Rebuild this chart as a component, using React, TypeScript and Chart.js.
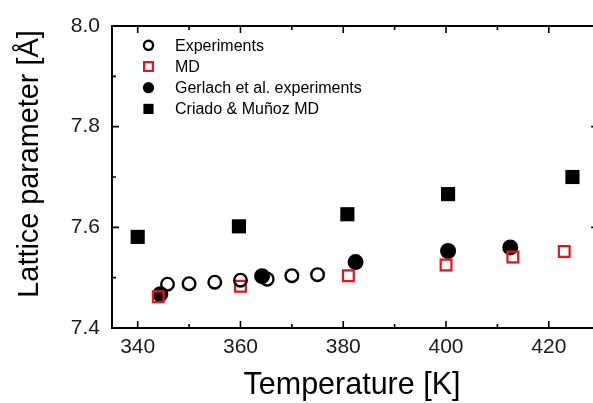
import React, { useEffect, useRef } from 'react';
import { Chart, registerables } from 'chart.js';
Chart.register(...registerables);

// Data
const expT = [345.8, 350, 355, 360, 365.2, 370, 375];
const expA = [7.487, 7.488, 7.491, 7.495, 7.497, 7.504, 7.506];
const mdT = [344, 360, 381, 400, 413, 423];
const mdA = [7.462, 7.483, 7.504, 7.525, 7.541, 7.552];
const gerT = [344.4, 364.2, 382.4, 400.4, 412.5];
const gerA = [7.467, 7.503, 7.531, 7.553, 7.56];
const crT = [340, 359.7, 380.8, 400.4, 424.6];
const crA = [7.581, 7.602, 7.626, 7.666, 7.7];
const seriesNames = ['Experiments', 'MD', 'Gerlach et al. experiments', 'Criado & Muñoz MD'];
const xTicks = [340, 360, 380, 400, 420];
const yTicks = [7.4, 7.6, 7.8, 8.0];
const xMinorTicks = [340, 350, 360, 370, 380, 390, 400, 410, 420];
const yMinorTicks = [7.4, 7.5, 7.6, 7.7, 7.8, 7.9, 8.0];
const xTitle = 'Temperature [K]';
const yTitle = 'Lattice parameter [Å]';
// x axis frame runs to 430 K, just past the picture's right edge
const xMin = 335;
const xVisibleMax = 428.6;
const xFrameMax = 430;

const FONT = "'Liberation Sans', Arial, sans-serif";

const zip = (xs: number[], ys: number[]) => xs.map((x, i) => ({ x, y: ys[i] }));

// legend marker sizes (smaller than plot markers in the reference)
const legendRadius = [4.6, 6.2, 5.6, 7.2];

const framePlugin = {
  id: 'frameAndLegend',
  afterDraw(chart: any) {
    const ctx = chart.ctx;
    const { left, top, bottom } = chart.chartArea;
    const xs = chart.scales.x;
    const ys = chart.scales.y;
    const frameRight = xs.getPixelForValue(xFrameMax);
    ctx.save();
    ctx.strokeStyle = '#000';
    ctx.lineWidth = 2;
    ctx.beginPath();
    ctx.moveTo(frameRight, top);
    ctx.lineTo(left, top);
    ctx.lineTo(left, bottom);
    ctx.lineTo(frameRight, bottom);
    ctx.lineTo(frameRight, top);
    ctx.stroke();
    ctx.lineWidth = 1.6;
    ctx.beginPath();
    xMinorTicks.forEach((v) => {
      const px = xs.getPixelForValue(v);
      const len = xTicks.includes(v) ? 7 : 4;
      ctx.moveTo(px, bottom);
      ctx.lineTo(px, bottom - len);
      ctx.moveTo(px, top);
      ctx.lineTo(px, top + len);
    });
    yMinorTicks.forEach((v) => {
      const py = ys.getPixelForValue(v);
      const major = yTicks.some((t) => Math.abs(t - v) < 1e-6);
      const len = major ? 7 : 4;
      ctx.moveTo(left, py);
      ctx.lineTo(left + len, py);
      ctx.moveTo(frameRight, py);
      ctx.lineTo(frameRight - (major ? 9 : 5), py);
    });
    ctx.stroke();

    // axis titles
    ctx.fillStyle = '#000';
    ctx.textBaseline = 'alphabetic';
    ctx.textAlign = 'center';
    ctx.font = `30.5px ${FONT}`;
    ctx.fillText(xTitle, 352, 394);
    ctx.save();
    ctx.translate(38, 164);
    ctx.rotate(-Math.PI / 2);
    ctx.font = `28.8px ${FONT}`;
    ctx.fillText(yTitle, 0, 0);
    ctx.restore();

    // legend
    const lx = 148.5;
    const ly0 = 45.3;
    const step = 21.2;
    chart.data.datasets.forEach((ds: any, i: number) => {
      const cy = ly0 + i * step;
      const r = legendRadius[i];
      ctx.lineWidth = ds.borderWidth;
      ctx.strokeStyle = ds.borderColor;
      ctx.fillStyle = ds.backgroundColor;
      ctx.beginPath();
      if (ds.pointStyle === 'circle') {
        ctx.arc(lx, cy, r, 0, Math.PI * 2);
      } else {
        const s = Math.SQRT1_2 * r;
        ctx.rect(lx - s, cy - s, 2 * s, 2 * s);
      }
      ctx.fill();
      if (ds.borderWidth > 0) ctx.stroke();
      ctx.fillStyle = '#000';
      ctx.font = `16px ${FONT}`;
      ctx.textBaseline = 'middle';
      ctx.textAlign = 'left';
      ctx.fillText(ds.label, 175, cy + 1);
    });
    ctx.restore();
  },
};

export default function App() {
  const ref = useRef<HTMLCanvasElement>(null);
  useEffect(() => {
    const canvas = ref.current!;
    const chart = new Chart(canvas, {
      type: 'scatter',
      data: {
        datasets: [
          {
            label: seriesNames[0],
            data: zip(expT, expA),
            pointStyle: 'circle',
            pointRadius: 6.3,
            borderWidth: 2.4,
            borderColor: '#000',
            backgroundColor: 'rgba(0,0,0,0)',
          },
          {
            label: seriesNames[1],
            data: zip(mdT, mdA),
            pointStyle: 'rect',
            pointRadius: 7.6,
            borderWidth: 2.2,
            borderColor: '#e8141b',
            backgroundColor: 'rgba(0,0,0,0)',
          },
          {
            label: seriesNames[2],
            data: zip(gerT, gerA),
            pointStyle: 'circle',
            pointRadius: 8,
            borderWidth: 0,
            borderColor: '#000',
            backgroundColor: '#000',
          },
          {
            label: seriesNames[3],
            data: zip(crT, crA),
            pointStyle: 'rect',
            pointRadius: 10,
            borderWidth: 0,
            borderColor: '#000',
            backgroundColor: '#000',
          },
        ] as any,
      },
      options: {
        animation: false,
        responsive: false,
        devicePixelRatio: 1,
        layout: { autoPadding: false, padding: { left: 0, top: 26, right: 0, bottom: 0 } },
        plugins: { legend: { display: false }, tooltip: { enabled: false } },
        scales: {
          x: {
            type: 'linear',
            min: xMin,
            max: xVisibleMax,
            afterBuildTicks: (s: any) => {
              s.ticks = xTicks.map((value) => ({ value }));
            },
            afterFit: (s: any) => {
              s.height = 75;
              s.paddingLeft = 0;
              s.paddingRight = 0;
            },
            grid: { display: false, drawTicks: false },
            border: { display: false },
            ticks: {
              color: '#1a1a1a',
              font: { family: FONT, size: 21 },
              padding: 7,
              maxRotation: 0,
              callback: (v: any) => String(v),
            },
            title: { display: false },
          },
          y: {
            type: 'linear',
            min: 7.4,
            max: 8.0,
            afterBuildTicks: (s: any) => {
              s.ticks = yTicks.map((value) => ({ value }));
            },
            afterFit: (s: any) => {
              s.width = 112;
              s.paddingTop = 0;
              s.paddingBottom = 0;
            },
            grid: { display: false, drawTicks: false },
            border: { display: false },
            ticks: {
              color: '#1a1a1a',
              font: { family: FONT, size: 21 },
              padding: 12,
              callback: (v: any) => Number(v).toFixed(1),
            },
            title: { display: false },
          },
        },
      } as any,
      plugins: [framePlugin],
    });
    return () => chart.destroy();
  }, []);
  return (
    <div style={{ position: 'fixed', left: 0, top: 0, width: 593, height: 403, overflow: 'hidden', background: '#fff' }}>
      <canvas ref={ref} width={593} height={403} style={{ display: 'block' }} />
    </div>
  );
}
